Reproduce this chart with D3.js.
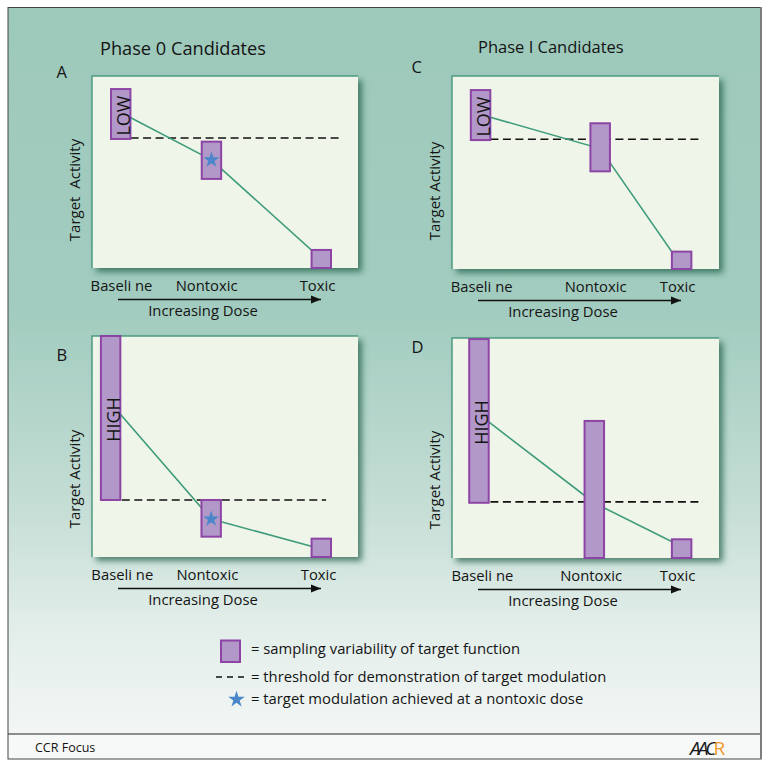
<!DOCTYPE html>
<html><head><meta charset="utf-8">
<script src="https://cdn.jsdelivr.net/npm/d3@7"></script>
<style>
body{margin:0;background:#ffffff}
svg{display:block}
text{font-family:"Open Sans",sans-serif;fill:#141414}
</style>
</head><body>
<svg id="chart" width="768" height="768"></svg>
<script>
// ---------- data ----------
const panelIds = ["A", "B", "C", "D"];
const columnTitles = ["Phase 0 Candidates", "Phase I Candidates"];
const doseLabels = ["Baseli ne", "Nontoxic", "Toxic"];
const yAxisTitles = ["Target  Activity", "Target Activity", "Target Activity", "Target Activity"];
const xAxisTitle = "Increasing Dose";
const baselineTags = ["LOW", "HIGH", "LOW", "HIGH"];
const legendTexts = [
  "= sampling variability of target function",
  "= threshold for demonstration of target modulation",
  "= target modulation achieved at a nontoxic dose"
];
const footerText = "CCR Focus";

// dose positions along the dose axis (0–100)
const doseXA = [10.8, 44.9, 86.2];
const doseXB = [7.0, 44.8, 86.2];
const doseXC = [10.7, 55.5, 86.0];
const doseXD = [10.1, 53.3, 86.0];
// dose label positions (0–100)
const labelXA = [10.9, 42.9, 84.6];
const labelXB = [11.2, 43.2, 85.0];
const labelXC = [10.9, 53.6, 84.3];
const labelXD = [11.2, 51.9, 84.3];
// sampling-variability boxes: low / high target activity (0–100)
const boxLowA = [67.2, 46.4, 0];   const boxHighA = [93.2, 65.8, 9.4];
const boxLowB = [25.8, 9.2, 0];    const boxHighB = [100, 25.8, 8.3];
const boxLowC = [66.8, 50.6, 0];   const boxHighC = [92.7, 75.5, 9.0];
const boxLowD = [25.1, 0, 0];      const boxHighD = [99.5, 62.3, 8.5];
// mean target activity line (0–100)
const meanA = [81.0, 56.3, 4.7];
const meanB = [69.7, 17.2, 3.6];
const meanC = [80.1, 62.4, 1.6];
const meanD = [65.3, 25.0, 5.2];
// threshold for target modulation and its extent along dose axis
const thresholds = [67.7, 25.8, 67.2, 25.5];
const thresholdFrom = [9.8, 11.2, 9.7, 9.7];
const thresholdTo = [94.4, 88.0, 94.0, 94.0];
// star = modulation achieved at nontoxic dose
const starAchieved = [true, true, false, false];

// ---------- layout ----------
const layout = [
  {x: 92,  y: 76,  w: 266, h: 192, lx: 56.5, ly: 77.5},
  {x: 92,  y: 336, w: 266, h: 221, lx: 56.5, ly: 360.5},
  {x: 452, y: 76,  w: 267, h: 193, lx: 411.5, ly: 72.5},
  {x: 452, y: 338, w: 267, h: 220, lx: 411.5, ly: 352.5}
];
const doseX = [doseXA, doseXB, doseXC, doseXD];
const labelX = [labelXA, labelXB, labelXC, labelXD];
const boxLow = [boxLowA, boxLowB, boxLowC, boxLowD];
const boxHigh = [boxHighA, boxHighB, boxHighC, boxHighD];
const means = [meanA, meanB, meanC, meanD];

const BOX_FILL = "#b298c9", BOX_STROKE = "#8d45a5", LINE = "#3f9b7b", STAR = "#4a86c9";

const svg = d3.select("#chart");
const defs = svg.append("defs");
const grad = defs.append("linearGradient").attr("id", "bg")
  .attr("x1", 0).attr("y1", 0).attr("x2", 0).attr("y2", 1);
[[0, "#9dc9bb"], [0.42, "#a2ccbf"], [0.68, "#c4ddd5"], [0.86, "#e3eeea"], [1, "#f2f6f4"]]
  .forEach(([o, c]) => grad.append("stop").attr("offset", o).attr("stop-color", c));
const flt = defs.append("filter").attr("id", "shadow")
  .attr("x", "-10%").attr("y", "-10%").attr("width", "130%").attr("height", "130%");
flt.append("feDropShadow").attr("dx", 4).attr("dy", 4).attr("stdDeviation", 3.2)
  .attr("flood-color", "#245f4c").attr("flood-opacity", 0.75);
defs.append("marker").attr("id", "arrow").attr("viewBox", "0 0 10 10")
  .attr("refX", 10).attr("refY", 5).attr("markerWidth", 10).attr("markerHeight", 10)
  .attr("markerUnits", "userSpaceOnUse").attr("orient", "auto")
  .append("path").attr("d", "M0,1 L10,5 L0,9 Z").attr("fill", "#111");

// background + frame
svg.append("rect").attr("x", 8).attr("y", 8).attr("width", 753).attr("height", 726).attr("fill", "url(#bg)");
svg.append("rect").attr("x", 8).attr("y", 734).attr("width", 753).attr("height", 25).attr("fill", "#f6f9f8");
svg.append("line").attr("x1", 8).attr("x2", 761).attr("y1", 734).attr("y2", 734).attr("stroke", "#222").attr("stroke-width", 1);
svg.append("rect").attr("x", 8).attr("y", 7.5).attr("width", 753).attr("height", 751.5)
  .attr("fill", "none").attr("stroke", "#444").attr("stroke-width", 1);
svg.append("line").attr("x1", 761).attr("x2", 761).attr("y1", 7).attr("y2", 759).attr("stroke", "#7d7d7d").attr("stroke-width", 2);

// column titles
svg.append("text").attr("x", 100).attr("y", 55).attr("font-size", 18.2).text(columnTitles[0]);
svg.append("text").attr("x", 478).attr("y", 53).attr("font-size", 16.5).text(columnTitles[1]);

panelIds.forEach((id, i) => {
  const L = layout[i];
  const x = d3.scaleLinear().domain([0, 100]).range([0, L.w]);
  const y = d3.scaleLinear().domain([0, 100]).range([L.h, 0]);
  const bw = x(7.3);

  svg.append("text").attr("x", L.lx).attr("y", L.ly).attr("font-size", 16.5).text(id);

  const g = svg.append("g").attr("transform", `translate(${L.x},${L.y})`);
  g.append("rect").attr("width", L.w).attr("height", L.h).attr("fill", "#eff6e9").attr("filter", "url(#shadow)");
  g.append("path").attr("d", `M0,${L.h} V0 H${L.w}`).attr("fill", "none").attr("stroke", "#4f9a82").attr("stroke-width", 1.5);

  // threshold
  g.append("line").attr("x1", x(thresholdFrom[i])).attr("x2", x(thresholdTo[i]))
    .attr("y1", y(thresholds[i])).attr("y2", y(thresholds[i]))
    .attr("stroke", "#111").attr("stroke-width", 1.6).attr("stroke-dasharray", "8,4.5");

  // mean line
  const line = d3.line().x((d, k) => x(doseX[i][k])).y(d => y(d));
  g.append("path").attr("d", line(means[i])).attr("fill", "none").attr("stroke", LINE).attr("stroke-width", 1.6);

  // boxes
  g.selectAll("rect.box").data(d3.range(3)).join("rect").attr("class", "box")
    .attr("x", k => x(doseX[i][k]) - bw / 2)
    .attr("y", k => y(boxHigh[i][k]))
    .attr("width", bw)
    .attr("height", k => y(boxLow[i][k]) - y(boxHigh[i][k]))
    .attr("fill", BOX_FILL).attr("stroke", BOX_STROKE).attr("stroke-width", 2);

  // LOW / HIGH tag
  const tagX = x(doseX[i][0]) + bw / 2 - 0.5;
  const tagY = (y(boxLow[i][0]) + y(boxHigh[i][0])) / 2 + 1.5;
  g.append("text").attr("transform", `translate(${tagX},${tagY}) rotate(-90)`)
    .attr("text-anchor", "middle").attr("font-size", 18).text(baselineTags[i]);

  // star
  if (starAchieved[i]) {
    g.append("path").attr("d", d3.symbol(d3.symbolStar, 80)())
      .attr("transform", `translate(${x(doseX[i][1])},${y(means[i][1])})`).attr("fill", STAR);
  }

  // dose labels via axis
  const ax = d3.axisBottom(x).tickValues(labelX[i]).tickFormat((d, k) => doseLabels[k]).tickSize(0).tickPadding(12);
  const axg = g.append("g").attr("transform", `translate(0,${L.h})`).call(ax);
  axg.select(".domain").remove();
  axg.selectAll("text").attr("font-size", 14.8).attr("font-family", "Open Sans").attr("fill", "#141414");

  // dose arrow
  g.append("line").attr("x1", 26).attr("x2", 229).attr("y1", L.h + 31.5).attr("y2", L.h + 31.5)
    .attr("stroke", "#111").attr("stroke-width", 1.5).attr("marker-end", "url(#arrow)");
  g.append("text").attr("x", 111).attr("y", L.h + 47.5).attr("text-anchor", "middle")
    .attr("font-size", 14.8).text(xAxisTitle);

  // y title
  g.append("text").attr("transform", `translate(-12.5,${L.h - 78}) rotate(-90)`)
    .attr("text-anchor", "middle").attr("font-size", 15).style("white-space", "pre").text(yAxisTitles[i]);
});

// legend
const lg = svg.append("g");
lg.append("rect").attr("x", 221).attr("y", 640.5).attr("width", 19).attr("height", 21.5)
  .attr("fill", BOX_FILL).attr("stroke", BOX_STROKE).attr("stroke-width", 2);
lg.append("line").attr("x1", 216).attr("x2", 244).attr("y1", 677).attr("y2", 677)
  .attr("stroke", "#111").attr("stroke-width", 1.6).attr("stroke-dasharray", "6,5");
lg.append("path").attr("d", d3.symbol(d3.symbolStar, 85)()).attr("transform", "translate(236.5,699.5)").attr("fill", STAR);
[654, 682, 704].forEach((yy, k) => {
  lg.append("text").attr("x", 251).attr("y", yy).attr("font-size", 14.8).text(legendTexts[k]);
});

// footer
svg.append("text").attr("x", 35).attr("y", 752).attr("font-size", 12.5).text(footerText);
const logo = svg.append("text").attr("x", 690).attr("y", 755).attr("font-size", 19)
  .attr("font-family", "DejaVu Serif").attr("font-style", "italic").attr("letter-spacing", -3);
logo.append("tspan").attr("fill", "#1a1a1a").text("AAC");
logo.append("tspan").attr("fill", "#f29a2e").attr("font-style", "normal").text("R");
</script>
</body></html>
